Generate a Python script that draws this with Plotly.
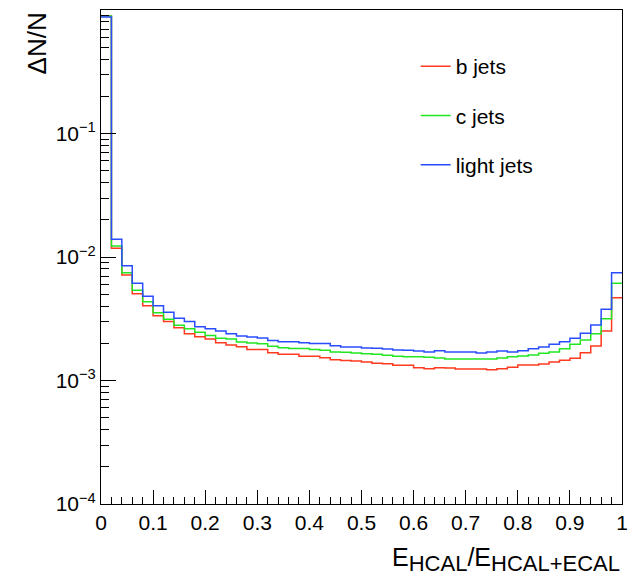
import numpy as np
import plotly.graph_objects as go

# ---- data (fraction per bin, 50 bins over [0,1]) ----
bin_edges = np.linspace(0.0, 1.0, 51)

b_jets = [0.894, 0.01175, 0.00715, 0.00505, 0.00403, 0.00335, 0.00301, 0.00268, 0.00239, 0.00226,
          0.00217, 0.00202, 0.00194, 0.00188, 0.00178, 0.00178, 0.00168, 0.00163, 0.00163, 0.00157,
          0.00157, 0.00153, 0.00147, 0.00145, 0.001438, 0.001412, 0.001377, 0.001368, 0.001327, 0.001327,
          0.001270, 0.001247, 0.001270, 0.001262, 0.001239, 0.001239, 0.001239, 0.001223, 0.001247, 0.001279,
          0.001336, 0.001336, 0.001361, 0.001412, 0.001458, 0.001513, 0.001680, 0.001903, 0.002518, 0.00468]

c_jets = [0.894, 0.01228, 0.00746, 0.00537, 0.00435, 0.00354, 0.00313, 0.00280, 0.00263, 0.00246,
          0.00231, 0.00220, 0.00217, 0.00205, 0.00201, 0.00198, 0.00189, 0.00184, 0.00182, 0.00182,
          0.00178, 0.00176, 0.00170, 0.00169, 0.001671, 0.001648, 0.001630, 0.001600, 0.001571, 0.001559,
          0.001559, 0.001542, 0.001521, 0.001493, 0.001493, 0.001493, 0.001493, 0.001493, 0.001521, 0.001559,
          0.001579, 0.001608, 0.001660, 0.001702, 0.001810, 0.001965, 0.002128, 0.002394, 0.003165, 0.00612]

light_jets = [0.878, 0.0139, 0.00851, 0.00612, 0.00481, 0.00403, 0.00357, 0.00319, 0.00301, 0.00273,
              0.00263, 0.00252, 0.00239, 0.00229, 0.00225, 0.00221, 0.00211, 0.00206, 0.00206, 0.00202,
              0.00199, 0.00199, 0.00191, 0.00187, 0.001868, 0.001833, 0.001824, 0.001799, 0.001766, 0.001757,
              0.001734, 0.001702, 0.001744, 0.001702, 0.001702, 0.001702, 0.001671, 0.001702, 0.001734, 0.001702,
              0.001744, 0.001810, 0.001868, 0.001965, 0.002062, 0.002197, 0.002411, 0.002814, 0.003773, 0.00746]

series_names = ["b jets", "c jets", "light jets"]
series_colors = ["#ff3a1e", "#22e622", "#2a4cff"]

x_tick_vals = [0, 0.1, 0.2, 0.3, 0.4, 0.5, 0.6, 0.7, 0.8, 0.9, 1.0]
x_tick_text = ["0", "0.1", "0.2", "0.3", "0.4", "0.5", "0.6", "0.7", "0.8", "0.9", "1"]
y_tick_vals = [1e-4, 1e-3, 1e-2, 1e-1]
y_tick_text = ["10<sup>\u22124</sup>", "10<sup>\u22123</sup>", "10<sup>\u22122</sup>", "10<sup>\u22121</sup>"]

FONT = "Liberation Sans, Arial, Helvetica, sans-serif"

fig = go.Figure()
for name, vals, col in zip(series_names, [b_jets, c_jets, light_jets], series_colors):
    xs = list(bin_edges[:-1]) + [bin_edges[-1]]
    ys = list(vals) + [vals[-1]]
    fig.add_trace(go.Scatter(
        x=xs, y=ys, mode="lines", name=name,
        line=dict(color=col, width=1.5, shape="hv"),
        legendgroup=name,
    ))

y_minor = [d * 10.0 ** k for k in range(-4, 0) for d in range(2, 10)]

fig.update_layout(
    width=639, height=579,
    margin=dict(l=101, r=17, t=10, b=75),
    paper_bgcolor="white", plot_bgcolor="white",
    font=dict(family=FONT, color="black", size=21),
    showlegend=True,
    legend=dict(
        x=0.604, y=0.927, xanchor="left", yanchor="top",
        font=dict(size=21, family=FONT, color="black"),
        bgcolor="rgba(0,0,0,0)", tracegroupgap=19, itemwidth=30,
    ),
    xaxis=dict(
        range=[0, 1], showgrid=False, zeroline=False,
        showline=True, linecolor="black", linewidth=1, mirror=True,
        ticks="inside", ticklen=14, tickcolor="black",
        tickvals=x_tick_vals, ticktext=x_tick_text,
        tickfont=dict(size=21, family=FONT),
        minor=dict(ticks="inside", ticklen=7, tickcolor="black", dtick=0.02, tick0=0, showgrid=False),
    ),
    yaxis=dict(
        type="log", range=[-4, 0], showgrid=False, zeroline=False,
        showline=True, linecolor="black", linewidth=1, mirror=True,
        ticks="inside", ticklen=15, tickcolor="black",
        tickvals=y_tick_vals, ticktext=y_tick_text,
        tickfont=dict(size=21, family=FONT),
        minor=dict(ticks="inside", ticklen=8, tickcolor="black", tickvals=y_minor, showgrid=False),
    ),
)

fig.add_annotation(
    text="E<sub><span style='font-size:22px'>HCAL</span></sub>/E<sub><span style='font-size:22px'>HCAL+ECAL</span></sub>",
    xref="paper", yref="paper", x=1.0, y=-0.075, xanchor="right", yanchor="top",
    showarrow=False, font=dict(size=25, family=FONT, color="black"),
)
fig.add_annotation(
    text="\u0394N/N",
    xref="paper", yref="paper", x=-0.122, y=1.0, xanchor="center", yanchor="top",
    textangle=-90, showarrow=False, font=dict(size=26, family=FONT, color="black"),
)

fig.write_html("out.html", config={"displayModeBar": False},
               post_script="document.body.style.margin='0px';")
